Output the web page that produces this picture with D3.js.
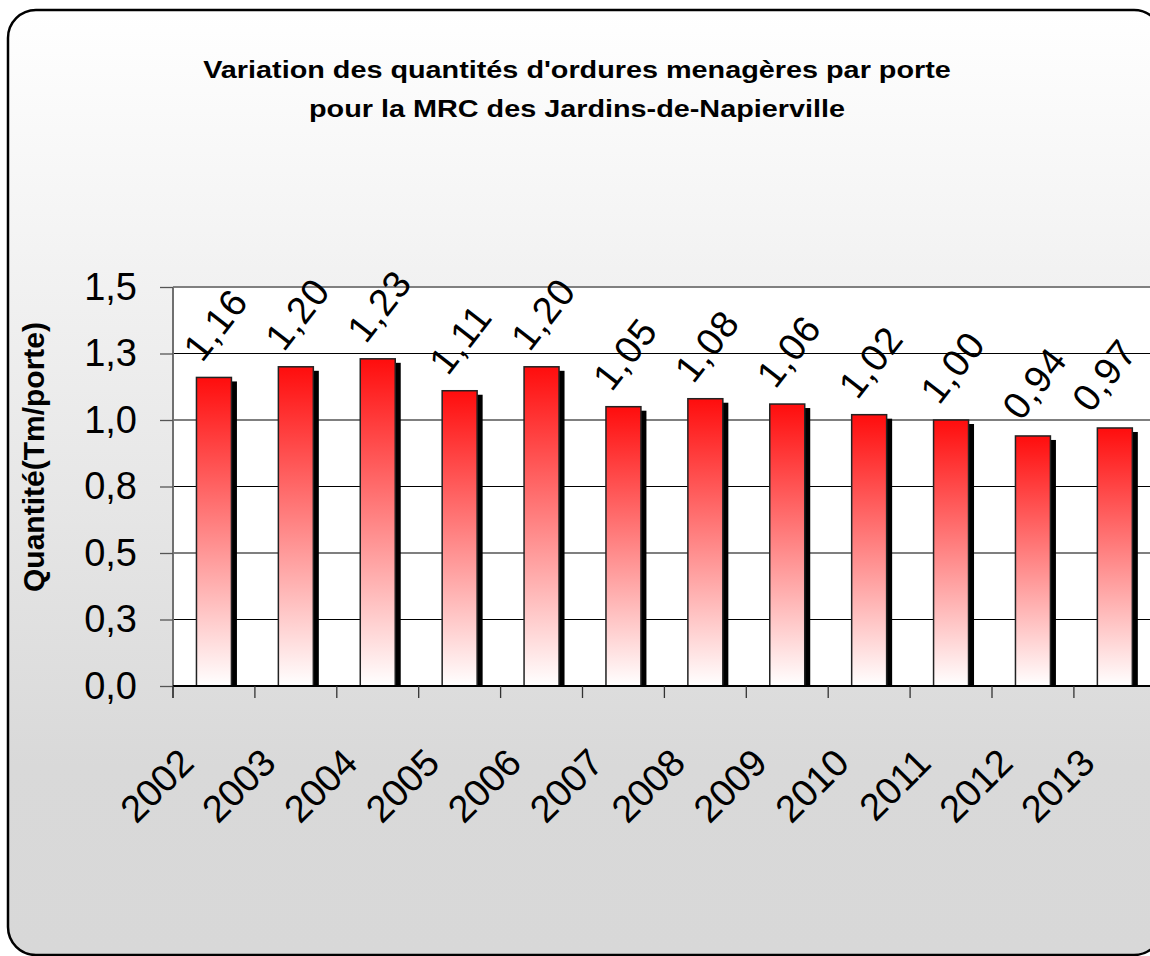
<!DOCTYPE html>
<html>
<head>
<meta charset="utf-8">
<script src="https://cdn.jsdelivr.net/npm/d3@7"></script>
<style>
  body { margin: 0; background: #fff; }
  svg { display: block; font-family: "Liberation Sans", Arial, sans-serif; }
</style>
</head>
<body>
<svg id="chart" width="1150" height="956"></svg>
<script>
// data
var years = ["2002","2003","2004","2005","2006","2007","2008","2009","2010","2011","2012","2013"]
var values = [1.16, 1.20, 1.23, 1.11, 1.20, 1.05, 1.08, 1.06, 1.02, 1.00, 0.94, 0.97]
var yTicks = [0, 0.25, 0.5, 0.75, 1.0, 1.25, 1.5]
var yTickLabels = ["0,0", "0,3", "0,5", "0,8", "1,0", "1,3", "1,5"]
var titleLines = ["Variation des quantités d'ordures menagères par porte", "pour la MRC des Jardins-de-Napierville"]
var yTitle = "Quantité(Tm/porte)"

var svg = d3.select("#chart")

var fr = d3.formatLocale({decimal: ",", thousands: " ", grouping: [3], currency: ["", "€"]})
var fmt = fr.format(".2f")

// gradients
var defs = svg.append("defs")
var bg = defs.append("linearGradient").attr("id", "bg")
    .attr("x1", 0).attr("y1", 0).attr("x2", 0).attr("y2", 1)
bg.append("stop").attr("offset", "0%").attr("stop-color", "#ffffff")
bg.append("stop").attr("offset", "80%").attr("stop-color", "#d9d9d9")
bg.append("stop").attr("offset", "100%").attr("stop-color", "#d8d8d8")

var barGrad = defs.append("linearGradient").attr("id", "barGrad")
    .attr("x1", 0).attr("y1", 0).attr("x2", 0).attr("y2", 1)
barGrad.append("stop").attr("offset", "0%").attr("stop-color", "#ff0d0d")
barGrad.append("stop").attr("offset", "100%").attr("stop-color", "#ffffff")

// frame
svg.append("rect")
    .attr("x", 8).attr("y", 10)
    .attr("width", 1154).attr("height", 945)
    .attr("rx", 28).attr("ry", 28)
    .attr("fill", "url(#bg)")
    .attr("stroke", "#000").attr("stroke-width", 2.5)

// title
svg.append("g").selectAll("text")
  .data(titleLines)
  .enter().append("text")
    .attr("transform", (d, i) => "translate(577," + (78 + i * 39) + ") scale(1.2,1)")
    .attr("text-anchor", "middle")
    .style("font-weight", "bold")
    .style("font-size", "24px")
    .text(d => d)

// scales
var left = 173, plotTop = 287, plotBottom = 686
var step = 81.9
var x = d3.scaleBand()
    .domain(years)
    .range([left, left + step * years.length])
    .paddingInner(0.573)
    .paddingOuter(0.2865)

var y = d3.scaleLinear()
    .domain([0, 1.5])
    .range([plotBottom, plotTop])

// plot area
svg.append("rect")
    .attr("x", left).attr("y", plotTop)
    .attr("width", x.range()[1] - left).attr("height", plotBottom - plotTop)
    .attr("fill", "#fff")

// gridlines
svg.append("g").selectAll("line")
  .data(yTicks.filter(d => d > 0 && d < 1.5))
  .enter().append("line")
    .attr("x1", left).attr("x2", x.range()[1])
    .attr("y1", d => y(d)).attr("y2", d => y(d))
    .attr("stroke", "#000").attr("stroke-width", 1.2)

svg.append("line")
    .attr("x1", left).attr("x2", x.range()[1])
    .attr("y1", plotTop).attr("y2", plotTop)
    .attr("stroke", "#808080").attr("stroke-width", 2)

// bars: shadow first, then bar
var bars = svg.append("g")
bars.selectAll(".shadow")
  .data(values)
  .enter().append("rect")
    .attr("class", "shadow")
    .attr("x", (d, i) => x(years[i]) + 5.5)
    .attr("y", d => y(d) + 4)
    .attr("width", x.bandwidth())
    .attr("height", d => plotBottom - y(d) - 4)
    .attr("fill", "#000")

bars.selectAll(".bar")
  .data(values)
  .enter().append("rect")
    .attr("class", "bar")
    .attr("x", (d, i) => x(years[i]))
    .attr("y", d => y(d))
    .attr("width", x.bandwidth())
    .attr("height", d => plotBottom - y(d))
    .attr("fill", "url(#barGrad)")
    .attr("stroke", "#222").attr("stroke-width", 1.5)

// value labels (last one pulled in a bit so it stays inside, as in the original)
svg.append("g").selectAll("text")
  .data(values)
  .enter().append("text")
    .attr("transform", (d, i) => "translate(" + (x(years[i]) + x.bandwidth() / 2 - (i == values.length - 1 ? 24 : 12)) + "," + (y(d) - 14) + ") rotate(-52)")
    .style("font-size", "38px")
    .style("letter-spacing", "1px")
    .text(d => fmt(d))

// y axis
var yAxis = svg.append("g")
    .attr("transform", "translate(" + left + ",0)")
    .call(d3.axisLeft(y).tickValues(yTicks).tickFormat((d, i) => yTickLabels[i]).tickSize(13).tickPadding(23))
yAxis.select(".domain").attr("stroke", "#707070").attr("stroke-width", 2)
    .attr("d", "M0," + plotTop + "V" + (plotBottom + 12))
yAxis.selectAll(".tick line").attr("stroke", "#555").attr("stroke-width", 1.3)
yAxis.selectAll(".tick text")
    .style("font-size", "38px")
    .style("font-family", "'Liberation Sans', Arial, sans-serif")
    .attr("fill", "#000")

// x axis
svg.append("line")
    .attr("x1", left).attr("x2", x.range()[1])
    .attr("y1", plotBottom).attr("y2", plotBottom)
    .attr("stroke", "#000").attr("stroke-width", 2)

svg.append("g").selectAll("line")
  .data(d3.range(years.length + 1))
  .enter().append("line")
    .attr("x1", i => left + i * x.step()).attr("x2", i => left + i * x.step())
    .attr("y1", plotBottom).attr("y2", plotBottom + 12)
    .attr("stroke", "#333").attr("stroke-width", 1.3)

svg.append("g").selectAll("text")
  .data(years)
  .enter().append("text")
    .attr("transform", d => "translate(" + (x(d) + x.bandwidth() / 2 - 18) + ",765) rotate(-45)")
    .attr("text-anchor", "end")
    .style("font-size", "38px")
    .text(d => d)

// y axis title
svg.append("text")
    .attr("transform", "translate(44,457) rotate(-90)")
    .attr("text-anchor", "middle")
    .style("font-weight", "bold")
    .style("font-size", "30px")
    .text(yTitle)
</script>
</body>
</html>
